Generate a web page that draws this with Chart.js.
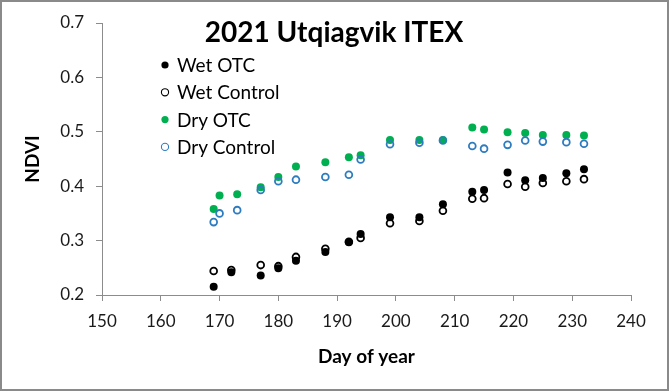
<!DOCTYPE html>
<html>
<head>
<meta charset="utf-8">
<script src="https://cdn.jsdelivr.net/npm/chart.js@4/dist/chart.umd.min.js"></script>
<style>
  html, body { margin: 0; padding: 0; background: #ffffff; }
  #wrap { width: 669px; height: 391px; position: relative; }
</style>
</head>
<body>
<div id="wrap"><canvas id="c" width="669" height="391"></canvas></div>
<script>
const chartTitle = "2021 Utqiagvik ITEX";
const xTitle = "Day of year";
const yTitle = "NDVI";

const wetDays = [169, 172, 177, 180, 183, 188, 192, 194, 199, 204, 208, 213, 215, 219, 222, 225, 229, 232];
const wetOTC = [0.215, 0.242, 0.236, 0.249, 0.263, 0.279, 0.297, 0.312, 0.343, 0.343, 0.367, 0.390, 0.393, 0.425, 0.411, 0.415, 0.424, 0.431];
const wetControl = [0.244, 0.246, 0.255, 0.253, 0.270, 0.285, 0.298, 0.305, 0.332, 0.336, 0.355, 0.377, 0.378, 0.404, 0.399, 0.406, 0.409, 0.413];

const dryDays = [169, 170, 173, 177, 180, 183, 188, 192, 194, 199, 204, 208, 213, 215, 219, 222, 225, 229, 232];
const dryOTC = [0.358, 0.383, 0.385, 0.398, 0.417, 0.436, 0.444, 0.453, 0.457, 0.485, 0.485, 0.485, 0.508, 0.504, 0.499, 0.498, 0.494, 0.494, 0.493];
const dryControl = [0.334, 0.350, 0.356, 0.393, 0.409, 0.412, 0.417, 0.421, 0.449, 0.477, 0.480, 0.484, 0.474, 0.469, 0.476, 0.484, 0.482, 0.481, 0.478];

const seriesNames = ["Wet OTC", "Wet Control", "Dry OTC", "Dry Control"];

function pts(xs, ys) { return xs.map((x, i) => ({ x: x, y: ys[i] })); }

const FONT = "Lato, 'Open Sans', 'DejaVu Sans', sans-serif";
const AXIS = "#8c8c8c";

const overlay = {
  id: "overlay",
  afterDraw(chart) {
    const ctx = chart.ctx;
    ctx.save();
    // outer border
    ctx.strokeStyle = "#8a8a8a";
    ctx.lineWidth = 2;
    ctx.strokeRect(1, 1, chart.width - 2, chart.height - 2);
    // title
    ctx.fillStyle = "#000";
    ctx.font = "bold 28px " + FONT;
    ctx.textAlign = "center";
    ctx.textBaseline = "alphabetic";
    ctx.fillText(chartTitle, 334, 42);
    // legend
    const ds = chart.data.datasets;
    const rows = [65, 92.3, 119.6, 146.9];
    ctx.font = "19px " + FONT;
    ctx.textAlign = "left";
    ctx.textBaseline = "middle";
    ds.forEach((d, i) => {
      const y = rows[i];
      ctx.beginPath();
      ctx.arc(165, y, 3.6, 0, Math.PI * 2);
      if (d.pointBackgroundColor !== "rgba(0,0,0,0)") {
        ctx.fillStyle = d.pointBackgroundColor;
        ctx.fill();
      } else {
        ctx.lineWidth = 1.1;
        ctx.strokeStyle = d.pointBorderColor;
        ctx.stroke();
      }
      ctx.fillStyle = "#000";
      ctx.fillText(d.label, 177, y + 1);
    });
    ctx.restore();
  }
};

new Chart(document.getElementById("c"), {
  type: "scatter",
  data: {
    datasets: [
      { label: seriesNames[0], data: pts(wetDays, wetOTC), order: 4,
        pointBackgroundColor: "#000000", pointBorderColor: "#000000", pointBorderWidth: 0, pointRadius: 4 },
      { label: seriesNames[1], data: pts(wetDays, wetControl), order: 3,
        pointBackgroundColor: "rgba(0,0,0,0)", pointBorderColor: "#000000", pointBorderWidth: 1.8, pointRadius: 3.4 },
      { label: seriesNames[2], data: pts(dryDays, dryOTC), order: 2,
        pointBackgroundColor: "#00B050", pointBorderColor: "#00B050", pointBorderWidth: 0, pointRadius: 4 },
      { label: seriesNames[3], data: pts(dryDays, dryControl), order: 1,
        pointBackgroundColor: "rgba(0,0,0,0)", pointBorderColor: "#2E7CC0", pointBorderWidth: 1.8, pointRadius: 3.4 }
    ]
  },
  options: {
    responsive: false,
    animation: false,
    devicePixelRatio: 1,
    layout: { padding: { left: 0, right: 38, top: 23, bottom: 0 } },
    plugins: {
      legend: { display: false },
      title: { display: false },
      tooltip: { enabled: false }
    },
    scales: {
      x: {
        type: "linear",
        min: 150, max: 240,
        afterFit(s) { s.height = 96; },
        ticks: { stepSize: 10, color: "#1a1a1a", font: { family: FONT, size: 17 }, padding: 10, maxRotation: 0 },
        grid: { drawOnChartArea: false, drawTicks: true, tickLength: 6, color: AXIS, tickColor: AXIS },
        border: { display: true, color: AXIS, width: 1 },
        title: { display: true, text: xTitle, color: "#000", font: { family: FONT, size: 19, weight: "bold" }, padding: { top: 0, bottom: 23 } }
      },
      y: {
        type: "linear",
        min: 0.2, max: 0.7,
        afterFit(s) { s.width = 102; },
        ticks: { stepSize: 0.1, color: "#1a1a1a", font: { family: FONT, size: 17 }, padding: 12,
          callback: (v) => Number(v).toFixed(1) },
        grid: { drawOnChartArea: false, drawTicks: true, tickLength: 6, color: AXIS, tickColor: AXIS },
        border: { display: true, color: AXIS, width: 1 },
        title: { display: true, text: yTitle, color: "#000", font: { family: FONT, size: 19, weight: "bold" }, padding: { top: 21, bottom: 0 } }
      }
    }
  },
  plugins: [overlay]
});
</script>
</body>
</html>
